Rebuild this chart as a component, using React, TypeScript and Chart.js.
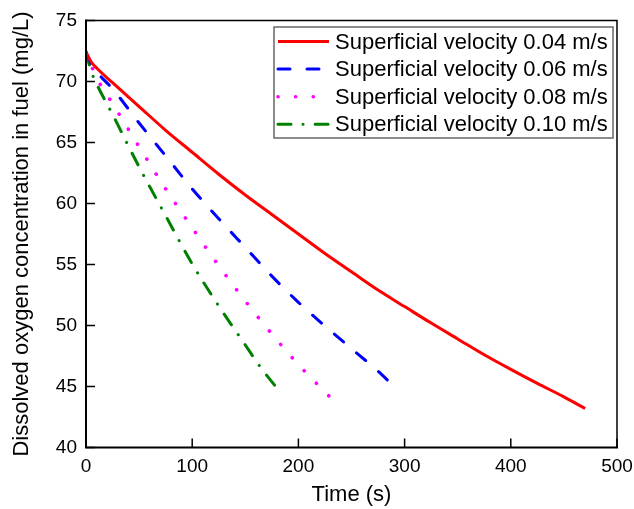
import React, { useEffect, useRef } from "react";
import { Chart, registerables } from "chart.js";

Chart.register(...registerables);

// Time (s) sample points and dissolved oxygen concentration (mg/L) for each superficial velocity
const time004 = [0, 5, 10, 25, 50, 75, 100, 125, 150, 175, 200, 225, 250, 275, 300, 325, 350, 375, 400, 425, 450, 470];
const conc004 = [72.4, 71.6, 71.1, 69.9, 67.95, 66.0, 64.2, 62.4, 60.7, 59.1, 57.5, 55.9, 54.4, 52.9, 51.55, 50.2, 48.9, 47.6, 46.4, 45.25, 44.15, 43.2];

const time006 = [0, 5, 10, 25, 50, 75, 100, 125, 150, 175, 200, 225, 250, 275, 289];
const conc006 = [72.4, 71.45, 70.8, 69.4, 66.6, 63.9, 61.2, 58.75, 56.4, 54.05, 51.9, 49.95, 48.1, 46.25, 45.1];

const time008 = [0, 5, 10, 25, 50, 75, 100, 125, 150, 175, 200, 229];
const conc008 = [72.4, 71.3, 70.3, 68.2, 64.65, 61.2, 58.0, 54.9, 52.0, 49.3, 46.8, 44.2];

const time010 = [0, 5, 10, 25, 50, 75, 100, 125, 150, 165, 179];
const conc010 = [72.4, 70.8, 69.8, 67.3, 63.0, 59.0, 55.05, 51.6, 48.4, 46.5, 44.95];

const seriesLabels = [
  "Superficial velocity 0.04 m/s",
  "Superficial velocity 0.06 m/s",
  "Superficial velocity 0.08 m/s",
  "Superficial velocity 0.10 m/s",
];

const xTicks = [0, 100, 200, 300, 400, 500];
const yTicks = [40, 45, 50, 55, 60, 65, 70, 75];

const FONT = "Arial, 'Liberation Sans', sans-serif";

const toPoints = (xs: number[], ys: number[]) => xs.map((x, i) => ({ x, y: ys[i] }));

const framePlugin = {
  id: "frameTicks",
  afterDatasetsDraw(chart: any) {
    const { ctx, chartArea } = chart;
    const { left, right, top, bottom } = chartArea;
    const xs = chart.scales.x;
    const ys = chart.scales.y;
    ctx.save();
    ctx.strokeStyle = "#000";
    ctx.lineCap = "butt";
    ctx.lineWidth = 1.5;
    ctx.beginPath();
    ctx.moveTo(left, top);
    ctx.lineTo(right, top);
    ctx.lineTo(right, bottom);
    ctx.stroke();
    ctx.lineWidth = 2;
    ctx.beginPath();
    ctx.moveTo(left, top - 1);
    ctx.lineTo(left, bottom);
    ctx.lineTo(right + 1, bottom);
    ctx.stroke();
    ctx.lineWidth = 1.5;
    ctx.beginPath();
    xTicks.forEach((v) => {
      const px = xs.getPixelForValue(v);
      ctx.moveTo(px, bottom);
      ctx.lineTo(px, bottom - 9);
    });
    yTicks.forEach((v) => {
      const py = ys.getPixelForValue(v);
      ctx.moveTo(left, py);
      ctx.lineTo(left + 9, py);
    });
    ctx.stroke();
    ctx.restore();
  },
};

const legendPlugin = {
  id: "boxLegend",
  afterDraw(chart: any) {
    const { ctx, chartArea } = chart;
    const boxRight = chartArea.right - 4;
    const boxLeft = boxRight - 339;
    const boxTop = chartArea.top + 6.5;
    const rowH = 27.6;
    const boxH = 111;
    ctx.save();
    ctx.fillStyle = "#fff";
    ctx.fillRect(boxLeft, boxTop, boxRight - boxLeft, boxH);
    ctx.strokeStyle = "#666";
    ctx.lineWidth = 1.5;
    ctx.strokeRect(boxLeft, boxTop, boxRight - boxLeft, boxH);
    chart.data.datasets.forEach((ds: any, i: number) => {
      const y = boxTop + 14.5 + i * rowH;
      ctx.save();
      ctx.strokeStyle = ds.borderColor;
      ctx.lineWidth = ds.borderWidth;
      ctx.lineCap = ds.borderCapStyle || "butt";
      ctx.setLineDash(ds.borderDash || []);
      ctx.beginPath();
      ctx.moveTo(boxLeft + 4, y);
      ctx.lineTo(boxLeft + 55, y);
      ctx.stroke();
      ctx.restore();
      ctx.fillStyle = "#000";
      ctx.font = `22px ${FONT}`;
      ctx.textAlign = "left";
      ctx.textBaseline = "middle";
      ctx.fillText(ds.label, boxLeft + 61, y + 1);
    });
    ctx.restore();
  },
};

export default function App() {
  const ref = useRef<HTMLCanvasElement | null>(null);

  useEffect(() => {
    if (!ref.current) return;
    const common = { pointRadius: 0, borderWidth: 3, fill: false, cubicInterpolationMode: "monotone" as const, borderCapStyle: "round" as const };
    const chart = new Chart(ref.current, {
      type: "line",
      data: {
        datasets: [
          { ...common, label: seriesLabels[0], data: toPoints(time004, conc004), borderColor: "#ff0000", borderCapStyle: "butt", borderDash: [] },
          { ...common, label: seriesLabels[1], data: toPoints(time006, conc006), borderColor: "#0000ff", borderDash: [12, 17] },
          { ...common, label: seriesLabels[2], data: toPoints(time008, conc008), borderColor: "#ff00ff", borderWidth: 3.6, borderDash: [0.1, 17.5] },
          { ...common, label: seriesLabels[3], data: toPoints(time010, conc010), borderColor: "#008000", borderDash: [13, 12, 0.1, 12] },
        ],
      },
      options: {
        animation: false,
        responsive: false,
        devicePixelRatio: 1,
        layout: { padding: { top: 20.5, right: 17, bottom: 0, left: 0 } },
        plugins: { legend: { display: false }, tooltip: { enabled: false } },
        scales: {
          x: {
            type: "linear",
            min: 0,
            max: 500,
            afterFit: (s: any) => {
              s.height = 61.5;
              s.paddingLeft = 0;
              s.paddingRight = 0;
            },
            afterBuildTicks: (s: any) => {
              s.ticks = xTicks.map((v) => ({ value: v }));
            },
            ticks: { font: { family: FONT, size: 19 }, color: "#000", padding: 8, maxRotation: 0, autoSkip: false },
            grid: { display: false, drawTicks: false },
            border: { display: false },
            title: { display: true, text: "Time (s)", font: { family: FONT, size: 22 }, color: "#000", padding: { top: 0, bottom: 1 } },
          },
          y: {
            type: "linear",
            min: 40,
            max: 75,
            afterFit: (s: any) => {
              s.width = 86;
              s.paddingTop = 0;
              s.paddingBottom = 0;
            },
            afterBuildTicks: (s: any) => {
              s.ticks = yTicks.map((v) => ({ value: v }));
            },
            ticks: { font: { family: FONT, size: 19 }, color: "#000", padding: 9, autoSkip: false },
            grid: { display: false, drawTicks: false },
            border: { display: false },
            title: {
              display: true,
              text: "Dissolved oxygen concentration in fuel (mg/L)",
              font: { family: FONT, size: 22 },
              color: "#000",
              padding: { top: 9, bottom: 0 },
            },
          },
        },
      },
      plugins: [framePlugin, legendPlugin],
    });
    return () => chart.destroy();
  }, []);

  return (
    <div style={{ position: "fixed", left: 0, top: 0, width: 634, height: 509, background: "#fff" }}>
      <canvas ref={ref} width={634} height={509} style={{ display: "block" }} />
    </div>
  );
}
